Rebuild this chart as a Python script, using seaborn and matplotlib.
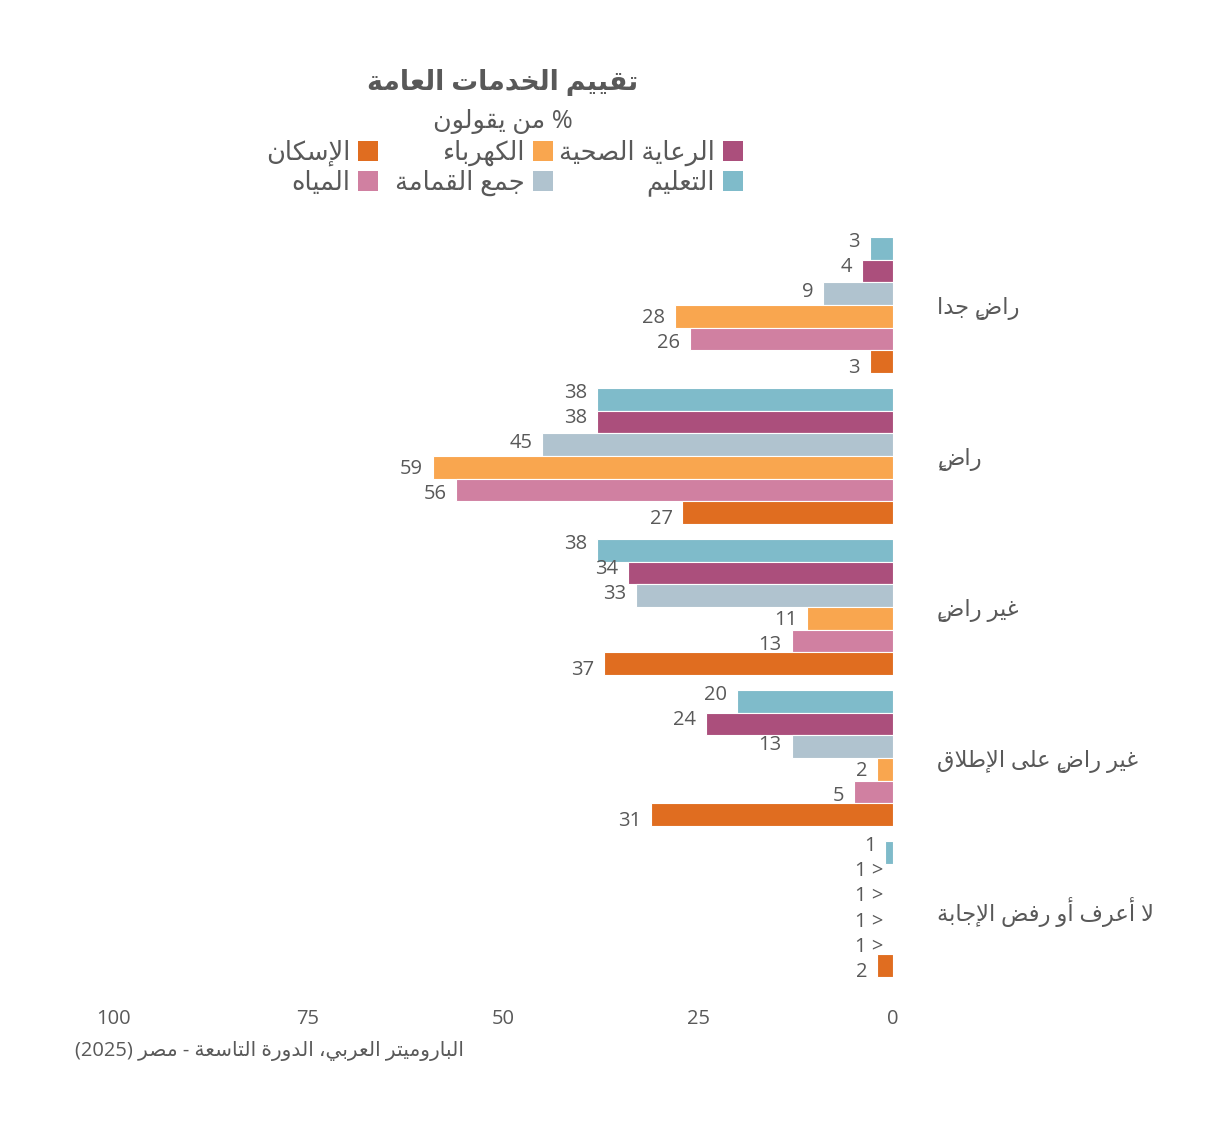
import numpy as np
import pandas as pd
import matplotlib
matplotlib.use("Agg")
import matplotlib.pyplot as plt
from matplotlib.patches import Rectangle
import seaborn as sns

# ---------------- data ----------------
categories = ["راضٍ جدا", "راضٍ", "غير راضٍ", "غير راضٍ على الإطلاق", "لا أعرف أو رفض الإجابة"]
services = ["التعليم", "الرعاية الصحية", "جمع القمامة", "الكهرباء", "المياه", "الإسكان"]
education = [3, 38, 38, 20, 1]
health = [4, 38, 34, 24, 0]
garbage = [9, 45, 33, 13, 0]
electricity = [28, 59, 11, 2, 0]
water = [26, 56, 13, 5, 0]
housing = [3, 27, 37, 31, 2]
label_education = ["3", "38", "38", "20", "1"]
label_health = ["4", "38", "34", "24", "< 1"]
label_garbage = ["9", "45", "33", "13", "< 1"]
label_electricity = ["28", "59", "11", "2", "< 1"]
label_water = ["26", "56", "13", "5", "< 1"]
label_housing = ["3", "27", "37", "31", "2"]
colors = ["#7fbbca", "#ab4f7c", "#b0c3cf", "#f9a64f", "#d080a1", "#e06d20"]
x_ticks = [0, 25, 50, 75, 100]
title = "تقييم الخدمات العامة"
subtitle = "% من يقولون"
source = "الباروميتر العربي، الدورة التاسعة - مصر (2025)"

# ---------------- minimal Arabic shaping + bidi ----------------
_F = {
    0x0621: (0xFE80, None, None, None),
    0x0622: (0xFE81, 0xFE82, None, None),
    0x0623: (0xFE83, 0xFE84, None, None),
    0x0624: (0xFE85, 0xFE86, None, None),
    0x0625: (0xFE87, 0xFE88, None, None),
    0x0626: (0xFE89, 0xFE8A, 0xFE8B, 0xFE8C),
    0x0627: (0xFE8D, 0xFE8E, None, None),
    0x0628: (0xFE8F, 0xFE90, 0xFE91, 0xFE92),
    0x0629: (0xFE93, 0xFE94, None, None),
    0x062A: (0xFE95, 0xFE96, 0xFE97, 0xFE98),
    0x062B: (0xFE99, 0xFE9A, 0xFE9B, 0xFE9C),
    0x062C: (0xFE9D, 0xFE9E, 0xFE9F, 0xFEA0),
    0x062D: (0xFEA1, 0xFEA2, 0xFEA3, 0xFEA4),
    0x062E: (0xFEA5, 0xFEA6, 0xFEA7, 0xFEA8),
    0x062F: (0xFEA9, 0xFEAA, None, None),
    0x0630: (0xFEAB, 0xFEAC, None, None),
    0x0631: (0xFEAD, 0xFEAE, None, None),
    0x0632: (0xFEAF, 0xFEB0, None, None),
    0x0633: (0xFEB1, 0xFEB2, 0xFEB3, 0xFEB4),
    0x0634: (0xFEB5, 0xFEB6, 0xFEB7, 0xFEB8),
    0x0635: (0xFEB9, 0xFEBA, 0xFEBB, 0xFEBC),
    0x0636: (0xFEBD, 0xFEBE, 0xFEBF, 0xFEC0),
    0x0637: (0xFEC1, 0xFEC2, 0xFEC3, 0xFEC4),
    0x0638: (0xFEC5, 0xFEC6, 0xFEC7, 0xFEC8),
    0x0639: (0xFEC9, 0xFECA, 0xFECB, 0xFECC),
    0x063A: (0xFECD, 0xFECE, 0xFECF, 0xFED0),
    0x0641: (0xFED1, 0xFED2, 0xFED3, 0xFED4),
    0x0642: (0xFED5, 0xFED6, 0xFED7, 0xFED8),
    0x0643: (0xFED9, 0xFEDA, 0xFEDB, 0xFEDC),
    0x0644: (0xFEDD, 0xFEDE, 0xFEDF, 0xFEE0),
    0x0645: (0xFEE1, 0xFEE2, 0xFEE3, 0xFEE4),
    0x0646: (0xFEE5, 0xFEE6, 0xFEE7, 0xFEE8),
    0x0647: (0xFEE9, 0xFEEA, 0xFEEB, 0xFEEC),
    0x0648: (0xFEED, 0xFEEE, None, None),
    0x0649: (0xFEEF, 0xFEF0, None, None),
    0x064A: (0xFEF1, 0xFEF2, 0xFEF3, 0xFEF4),
}
_LA = {0x0622: (0xFEF5, 0xFEF6), 0x0623: (0xFEF7, 0xFEF8),
       0x0625: (0xFEF9, 0xFEFA), 0x0627: (0xFEFB, 0xFEFC)}
_MIRROR = {"(": ")", ")": "(", "<": ">", ">": "<", "[": "]", "]": "["}


def _is_mark(ch):
    o = ord(ch)
    return 0x064B <= o <= 0x065F or o == 0x0670


def _shape(s):
    cl = []
    for ch in s:
        if _is_mark(ch) and cl:
            cl[-1][1] += ch
        else:
            cl.append([ch, ""])
    merged = []
    i = 0
    while i < len(cl):
        b, m = cl[i]
        if ord(b) == 0x0644 and i + 1 < len(cl) and ord(cl[i + 1][0]) in _LA:
            merged.append([("LA", ord(cl[i + 1][0])), m + cl[i + 1][1]])
            i += 2
        else:
            merged.append([b, m])
            i += 1

    def joinable(b):
        return isinstance(b, tuple) or (ord(b) in _F and ord(b) != 0x0621)

    def dual(b):
        return (not isinstance(b, tuple)) and ord(b) in _F and _F[ord(b)][2] is not None

    out = []
    for i, (b, m) in enumerate(merged):
        prev = merged[i - 1][0] if i > 0 else None
        nxt = merged[i + 1][0] if i + 1 < len(merged) else None
        jp = prev is not None and dual(prev) and joinable(b)
        jn = nxt is not None and dual(b) and joinable(nxt)
        if isinstance(b, tuple):
            iso, fin = _LA[b[1]]
            g = chr(fin if jp else iso)
        elif ord(b) in _F:
            f = _F[ord(b)]
            if jp and jn:
                g = chr(f[3])
            elif jp:
                g = chr(f[1])
            elif jn:
                g = chr(f[2])
            else:
                g = chr(f[0])
        else:
            g = b
        # marks placed before base in visual (LTR) glyph order
        out.append(m + g)
    return out


def ar(s):
    cl = _shape(s)
    runs = []
    for c in cl:
        ltr = c[-1].isdigit() or ("a" <= c[-1].lower() <= "z")
        if runs and runs[-1][0] == ltr:
            runs[-1][1].append(c)
        else:
            runs.append([ltr, [c]])
    out = ""
    for ltr, cs in reversed(runs):
        if ltr:
            out += "".join(cs)
        else:
            out += "".join(_MIRROR.get(c, c) for c in reversed(cs))
    return out


# ---------------- figure ----------------
sns.set_theme(style="white")
plt.rcParams["font.family"] = ["Open Sans", "DejaVu Sans"]
TXT = "#595959"

series_vals = [education, health, garbage, electricity, water, housing]
series_labels = [label_education, label_health, label_garbage, label_electricity, label_water, label_housing]

df = pd.DataFrame({
    "category": np.repeat([categories], len(services), axis=0).ravel(),
    "service": np.repeat(services, len(categories)),
    "value": np.concatenate(series_vals),
})

W, H = 1230, 1135
fig = plt.figure(figsize=(W / 100, H / 100), dpi=100)
ax = fig.add_axes([113 / W, 1 - 984.5 / H, 780 / W, 755 / H])

sns.barplot(data=df, y="category", x="value", hue="service", order=categories,
            hue_order=services, palette=colors, orient="h", width=0.9,
            saturation=1, edgecolor="white", linewidth=0.8, legend=False, ax=ax)

ax.set_xlim(100, 0)
ax.set_ylim(len(categories) - 0.5, -0.5)
ax.set_xticks(x_ticks)
ax.set_xticklabels([str(t) for t in x_ticks])
ax.set_xlabel("")
ax.set_ylabel("")
ax.yaxis.tick_right()
ax.set_yticks(range(len(categories)))
ax.set_yticklabels([ar(c) for c in categories])
ax.tick_params(axis="y", length=0, pad=32, labelsize=16.3, labelcolor=TXT)
ax.tick_params(axis="x", length=0, pad=18, labelsize=14.5, labelcolor=TXT)
for sp in ax.spines.values():
    sp.set_visible(False)
ax.grid(False)

# value labels
for si, cont in enumerate(ax.containers):
    labs = series_labels[si]
    dy = (2.5 - si) * 1.9
    for ci, bar in enumerate(cont):
        xe = bar.get_x() + bar.get_width()
        yc = bar.get_y() + bar.get_height() / 2
        ax.annotate(ar(labs[ci]), xy=(xe, yc), xytext=(-7, dy),
                    textcoords="offset points", ha="right", va="center",
                    fontsize=14.5, color=TXT)

# title / subtitle
fig.text(503 / W, 1 - 83 / H, ar(title), ha="center", va="center",
         fontsize=19.3, fontweight="bold", color=TXT)
fig.text(503 / W, 1 - 122 / H, ar(subtitle), ha="center", va="center",
         fontsize=18.3, color=TXT)

# legend (RTL layout: swatch at right of text)
leg_cols_right = [743, 553, 378]
leg_rows = [151, 181]
leg_order = [[1, 0], [3, 2], [5, 4]]  # [row0, row1] per column
sw = 20
for col, xr in enumerate(leg_cols_right):
    for row, yc in enumerate(leg_rows):
        si = leg_order[col][row]
        fig.patches.append(Rectangle(((xr - sw) / W, 1 - (yc + sw / 2) / H), sw / W, sw / H,
                                     transform=fig.transFigure, facecolor=colors[si],
                                     edgecolor="none"))
        fig.text((xr - sw - 8) / W, 1 - (yc + 2) / H, ar(services[si]), ha="right",
                 va="center", fontsize=18.5, color=TXT)

# source
fig.text(75 / W, 1 - 1051 / H, ar(source), ha="left", va="center",
         fontsize=14.5, color=TXT)

fig.savefig("out.png", dpi=100, facecolor="white")
